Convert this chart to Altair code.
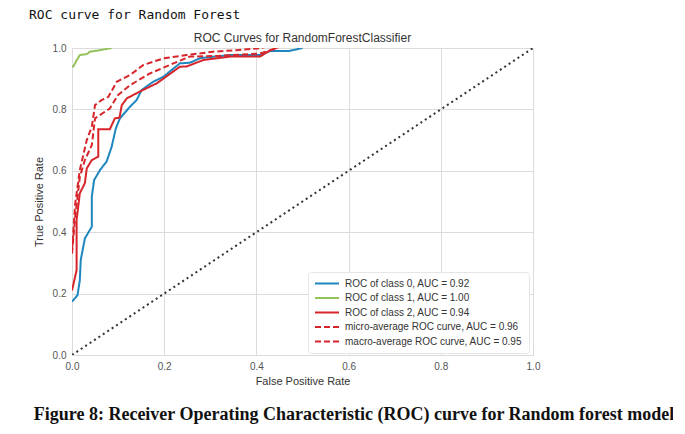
import altair as alt
import pandas as pd

# ---- data ----
series_names = [
    "ROC of class 0, AUC = 0.92",
    "ROC of class 1, AUC = 1.00",
    "ROC of class 2, AUC = 0.94",
    "micro-average ROC curve, AUC = 0.96",
    "macro-average ROC curve, AUC = 0.95",
]
series_colors = ["#1f87c0", "#93c25a", "#d7262b", "#d7262b", "#d7262b"]
series_dash = [[1, 0], [1, 0], [1, 0], [6, 3], [6, 3]]

fpr_c0 = [0, 0.012, 0.017, 0.019, 0.028, 0.043, 0.043, 0.048, 0.061, 0.075, 0.086, 0.095,
          0.104, 0.126, 0.14, 0.151, 0.176, 0.198, 0.234, 0.256, 0.278, 0.343, 0.408, 0.43, 0.47, 0.5]
tpr_c0 = [0.174, 0.195, 0.244, 0.31, 0.38, 0.418, 0.516, 0.57, 0.603, 0.63, 0.678, 0.738,
          0.771, 0.809, 0.83, 0.863, 0.89, 0.906, 0.95, 0.952, 0.967, 0.977, 0.977, 0.99, 0.99, 1.0]

fpr_c1 = [0, 0.003, 0.009, 0.017, 0.032, 0.039, 0.061, 0.086]
tpr_c1 = [0.94, 0.94, 0.957, 0.977, 0.98, 0.988, 0.993, 1.0]

fpr_c2 = [0, 0.01, 0.01, 0.017, 0.028, 0.032, 0.043, 0.057, 0.057, 0.082, 0.093, 0.103,
          0.108, 0.119, 0.147, 0.184, 0.234, 0.249, 0.285, 0.343, 0.408, 0.43, 0.444]
tpr_c2 = [0.21, 0.277, 0.44, 0.527, 0.56, 0.608, 0.635, 0.646, 0.735, 0.735, 0.771, 0.773,
          0.814, 0.836, 0.858, 0.885, 0.939, 0.94, 0.961, 0.972, 0.972, 0.993, 1.0]

fpr_micro = [0, 0.007, 0.017, 0.032, 0.043, 0.05, 0.064, 0.079, 0.097, 0.126, 0.155, 0.198,
             0.249, 0.306, 0.357, 0.415]
tpr_micro = [0.34, 0.494, 0.603, 0.70, 0.744, 0.814, 0.83, 0.841, 0.89, 0.912, 0.945, 0.966,
             0.977, 0.988, 0.993, 1.0]

fpr_macro = [0, 0.007, 0.017, 0.028, 0.043, 0.05, 0.072, 0.082, 0.1, 0.126, 0.169, 0.22,
             0.256, 0.314, 0.408, 0.447]
tpr_macro = [0.33, 0.45, 0.58, 0.635, 0.684, 0.771, 0.793, 0.803, 0.847, 0.879, 0.917, 0.95,
             0.972, 0.974, 0.982, 1.0]

diag_x = [0, 1]
diag_y = [0, 1]

tick_values = [0.0, 0.2, 0.4, 0.6, 0.8, 1.0]

header_text = ["ROC curve for Random Forest"]
title_text = ["ROC Curves for RandomForestClassifier"]
caption_text = ["Figure 8: Receiver Operating Characteristic (ROC) curve for Random forest model"]

# ---- build table ----
rows = []
for name, fx, ty in zip(series_names,
                        [fpr_c0, fpr_c1, fpr_c2, fpr_micro, fpr_macro],
                        [tpr_c0, tpr_c1, tpr_c2, tpr_micro, tpr_macro]):
    for i, (a, b) in enumerate(zip(fx, ty)):
        rows.append({"series": name, "fpr": a, "tpr": b, "idx": i})
df = pd.DataFrame(rows)
diag_df = pd.DataFrame({"fpr": diag_x, "tpr": diag_y})

W, H = 461, 307

xscale = alt.Scale(domain=[0, 1], nice=False, zero=False)
yscale = alt.Scale(domain=[0, 1], nice=False, zero=False)

xaxis = alt.Axis(values=tick_values, format=".1f", title="False Positive Rate",
                 labelFlush=False, titlePadding=4)
yaxis = alt.Axis(values=tick_values, format=".1f", title="True Positive Rate",
                 labelFlush=False, titlePadding=8)

diag = alt.Chart(diag_df).mark_line(
    color="#333333", strokeWidth=2, strokeDash=[2, 3.3], clip=True
).encode(
    x=alt.X("fpr:Q", scale=xscale, axis=xaxis),
    y=alt.Y("tpr:Q", scale=yscale, axis=yaxis),
)

curves = alt.Chart(df).mark_line(strokeWidth=2, clip=True).encode(
    x=alt.X("fpr:Q", scale=xscale, axis=xaxis),
    y=alt.Y("tpr:Q", scale=yscale, axis=yaxis),
    order="idx:Q",
    color=alt.Color("series:N",
                    scale=alt.Scale(domain=series_names, range=series_colors),
                    legend=alt.Legend(title=None, orient="none", legendX=236, legendY=224,
                                      symbolType="stroke", symbolSize=576,
                                      symbolStrokeWidth=2, labelFontSize=10,
                                      labelColor="#333333", labelFont="Liberation Sans",
                                      clipHeight=11, rowPadding=3.5, padding=6,
                                      fillColor="white", strokeColor="#e6e6e6",
                                      cornerRadius=3, labelLimit=300, labelOffset=5)),
    strokeDash=alt.StrokeDash("series:N",
                              scale=alt.Scale(domain=series_names, range=series_dash),
                              legend=None),
)

header = alt.Chart(pd.DataFrame({"t": header_text})).mark_text(
    align="left", baseline="alphabetic", font="DejaVu Sans Mono", fontSize=13,
    color="#111111"
).encode(x=alt.value(-43), y=alt.value(-29), text="t:N")

title = alt.Chart(pd.DataFrame({"t": title_text})).mark_text(
    align="center", baseline="alphabetic", font="Liberation Sans", fontSize=12,
    color="#333333"
).encode(x=alt.value(W / 2), y=alt.value(-6), text="t:N")

caption = alt.Chart(pd.DataFrame({"t": caption_text})).mark_text(
    align="center", baseline="alphabetic", font="Liberation Serif", fontSize=18,
    fontWeight="bold", color="#111111"
).encode(x=alt.value(282), y=alt.value(372), text="t:N")

chart = alt.layer(diag, curves, header, title, caption).properties(
    width=W, height=H,
    autosize=alt.AutoSizeParams(type="none"),
    padding={"left": 64, "top": 40, "right": 140, "bottom": 72},
).configure_view(
    stroke="#d0d0d0", strokeWidth=1
).configure_axis(
    domain=False, ticks=False, grid=True, gridColor="#dcdcdc", gridWidth=1,
    labelFont="Liberation Sans", labelFontSize=10, labelColor="#555555",
    labelPadding=6, titleFont="Liberation Sans", titleFontSize=11,
    titleFontWeight="normal", titleColor="#333333"
)

chart.save("out.html", embed_options={"renderer": "svg", "actions": False})
